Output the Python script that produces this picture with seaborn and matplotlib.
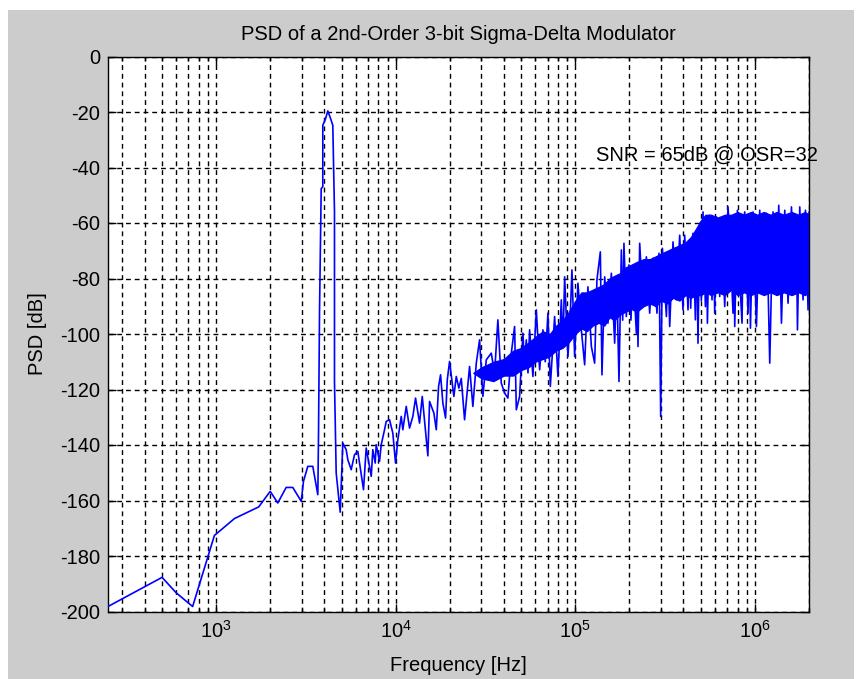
import numpy as np
import pandas as pd
import matplotlib
matplotlib.use("Agg")
import matplotlib.pyplot as plt
import seaborn as sns
from matplotlib.patches import Rectangle
from matplotlib.ticker import LogLocator, NullFormatter

# Measured PSD trace: frequency [Hz] and level [dB]
psd_freq = [
    250, 500, 600, 740, 978, 1265, 1727, 2000, 2204, 2454, 2672, 2978, 3064,
    3239, 3453, 3683, 3716, 3765, 3846, 3926, 3926, 4064, 4185, 4334, 4463,
    4560, 4560, 4661, 4907, 5074, 5299, 5410, 5650, 5894, 6150, 6615, 6849,
    7082, 7305, 7455, 7686, 7786, 8123, 8303, 8662, 8853, 9236, 9634, 9975,
    10273, 10730, 10954, 11441, 11937, 12454, 12892, 13571, 14048, 15098,
    15432, 16308, 16817, 17321, 17768, 18300, 18945, 19363, 19940, 21073,
    21730, 22468, 23170, 24170, 25770, 26880, 28090, 29300, 30570, 31930,
    34040, 35510, 37050, 38700, 40380, 42120, 44010, 45900, 46920, 48950,
    51070, 52200, 53330, 54500, 55650, 58050, 60640, 63270, 65990, 68000,
    70380, 72570, 76680, 80000, 83560, 85300, 87190, 90960, 93500, 95750,
    99100, 103400, 108000, 112700, 117500, 122800, 128100, 131900, 137800,
    140700, 145700, 151900, 158700, 165600, 170000, 175000, 180400, 183500,
    186500, 192300, 198900, 204000, 209400, 218700, 221000, 223300, 228200,
    238000, 248600, 259400, 270500, 284900, 292300, 298700, 305300, 321400,
    328000, 335300, 349900, 365300, 381200, 397600, 406400, 424000, 431000,
    438800, 452000, 466100, 474000, 481900, 492600, 503000, 513900, 529900,
    536000, 543700, 560000, 576800, 586000, 597000, 610200, 636600, 650700,
    678800, 708200, 723800, 755100, 763000, 771800, 799100, 823000, 847600,
    862000, 877500, 915400, 930000, 944000, 975900, 1019500, 1063400,
    1109400, 1159000, 1209200, 1261400, 1317800, 1357200, 1404900, 1465700,
    1529000, 1597000, 1666100, 1700000, 1724900, 1776500, 1853500, 1911100,
    1976000, 2000000,
]
psd_db = [
    -198.2, -187.7, -193.3, -198.2, -172.6, -166.5, -162.3, -156.7, -160.9,
    -155.3, -155.3, -160.3, -153.1, -147.7, -147.7, -157.9, -136.3, -91.3,
    -47.6, -47.0, -24.8, -22.5, -19.6, -22.3, -24.8, -56.0, -117.1, -150.1,
    -164.2, -139.3, -141.7, -145.3, -148.9, -143.5, -142.3, -156.1, -141.1,
    -146.5, -151.3, -141.7, -146.5, -139.9, -145.9, -139.9, -134.5, -131.5,
    -130.9, -135.7, -146.5, -138.1, -129.7, -134.5, -126.1, -133.9, -129.7,
    -123.1, -132.1, -122.5, -143.9, -124.3, -128.5, -134.5, -118.9, -114.7,
    -124.9, -130.3, -116.5, -109.9, -122.5, -115.3, -119.5, -116.0, -130.9,
    -111.7, -126.1, -110.5, -102.1, -122.5, -109.3, -106.9, -114.1, -94.9,
    -117.7, -121.3, -123.1, -106.9, -97.3, -127.3, -122.5, -99.7, -112.0,
    -102.1, -114.0, -98.5, -115.3, -91.3, -112.9, -98.5, -110.0, -92.5,
    -118.9, -93.7, -115.3, -87.7, -104.0, -79.4, -108.1, -95.0, -76.9,
    -108.1, -81.7, -98.5, -111.1, -83.0, -104.5, -110.5, -80.5, -70.4,
    -114.7, -79.4, -96.1, -78.1, -103.3, -80.0, -117.1, -69.7, -95.0, -67.3,
    -93.7, -75.1, -95.0, -75.8, -99.7, -78.0, -104.5, -67.3, -88.9, -72.2,
    -92.5, -72.7, -92.5, -70.9, -129.7, -69.1, -93.7, -75.0, -97.3, -66.8,
    -87.7, -64.4, -91.3, -64.4, -91.3, -68.6, -90.7, -63.7, -94.9, -66.0,
    -103.3, -60.1, -88.0, -56.0, -90.1, -60.0, -96.1, -57.2, -87.7, -62.0,
    -92.5, -57.8, -86.5, -59.0, -90.1, -54.2, -64.4, -92.5, -60.0, -97.3,
    -55.4, -80.5, -96.1, -60.0, -56.0, -92.5, -62.0, -97.9, -56.0, -97.3,
    -55.4, -83.0, -56.5, -110.5, -56.0, -81.7, -53.6, -96.1, -55.4, -88.9,
    -54.2, -84.1, -60.0, -98.5, -54.2, -87.7, -55.4, -91.3, -56.0,
]

# Dense noise floor: upper and lower edge of the solid band, kHz / dB
band_khz = [27, 30, 35, 40, 45, 50, 55, 60, 66, 72, 78, 85, 92, 100, 108,
            116, 125, 135, 145, 155, 165, 178, 190, 205, 220, 240, 260, 280,
            300, 325, 350, 380, 410, 440, 470, 500, 530, 570, 620, 680, 740,
            800, 870, 950, 1030, 1120, 1220, 1320, 1450, 1600, 1750, 1900,
            2000]
band_top = [-114, -112, -110, -109, -106, -105, -103, -101, -99, -100, -97,
            -95, -92, -88, -85, -85, -84, -83, -82, -80, -79, -78, -76, -75,
            -74, -73, -73, -72, -71, -70, -69, -68, -67, -65, -62, -59, -57,
            -57, -58, -57, -57, -56, -57, -56, -57, -56, -57, -56, -57, -56,
            -57, -56, -57]
band_bot = [-114, -116, -117, -115, -115, -113, -112, -110, -109, -108, -106,
            -105, -103, -100, -98, -99, -97, -96, -97, -94, -95, -93, -92,
            -91, -92, -90, -89, -90, -88, -89, -87, -88, -86, -87, -86, -86,
            -85, -86, -85, -86, -84, -86, -85, -86, -85, -86, -85, -86, -85,
            -86, -85, -86, -85]

y_ticks = list(range(-200, 1, 20))
snr_text = "SNR = 65dB @ OSR=32"
snr_pos = (1.3e5, -35.6)

sns.set_theme(style="white")
plt.rcParams["font.family"] = ["Liberation Sans", "DejaVu Sans"]
plt.rcParams["mathtext.fontset"] = "custom"
plt.rcParams["mathtext.rm"] = "Liberation Sans"
plt.rcParams["axes.unicode_minus"] = False
plt.rcParams["text.color"] = "black"
plt.rcParams["axes.labelcolor"] = "black"

FS = 14.5
BLUE = "#0000ff"

fig = plt.figure(figsize=(8.62, 6.79), dpi=100, facecolor="white")
fig.patches.append(Rectangle((8 / 862, 0), (854 - 8) / 862, (679 - 10) / 679,
                             transform=fig.transFigure, facecolor="#cccccc",
                             edgecolor="none", zorder=-10))
ax = fig.add_axes([108 / 862, 1 - 611.5 / 679, (809 - 108) / 862,
                   (611.5 - 56.5) / 679])
ax.set_facecolor("white")

ax.fill_between(np.array(band_khz) * 1e3, band_bot, band_top, color=BLUE,
                lw=0.8, edgecolor=BLUE, zorder=2)
df = pd.DataFrame({"Frequency": psd_freq, "PSD": psd_db})
sns.lineplot(data=df, x="Frequency", y="PSD", ax=ax, color=BLUE, lw=1.2,
             estimator=None, sort=False, zorder=3)

ax.set_xscale("log")
ax.set_xlim(250, 2e6)
ax.set_ylim(-200, 0)
ax.set_yticks(y_ticks)
ax.xaxis.set_major_locator(LogLocator(base=10))
ax.xaxis.set_minor_locator(LogLocator(base=10, subs=np.arange(2, 10)))
ax.xaxis.set_minor_formatter(NullFormatter())

dash = (0, (3.5, 2.8))
ax.grid(True, which="major", color="black", ls=dash, lw=1.0)
ax.grid(True, which="minor", axis="x", color="black", ls=dash, lw=1.0)

for s in ax.spines.values():
    s.set_visible(True)
    s.set_color("black")
    s.set_linewidth(1.0)

ax.tick_params(which="both", direction="in", top=True, right=True,
               bottom=True, left=True, colors="black", labelsize=FS)
ax.tick_params(which="major", length=6, width=1.0)
ax.tick_params(which="minor", length=3, width=1.0)
ax.tick_params(axis="y", pad=5.8)
ax.tick_params(axis="x", pad=6)

ax.set_title("PSD of a 2nd-Order 3-bit Sigma-Delta Modulator", fontsize=FS,
             pad=12, color="black")
ax.set_xlabel("Frequency [Hz]", fontsize=FS, labelpad=10)
ax.set_ylabel("PSD [dB]", fontsize=FS, labelpad=9)
ax.text(snr_pos[0], snr_pos[1], snr_text, fontsize=FS, ha="left",
        va="center", color="black", clip_on=False, zorder=4)

fig.savefig("out.png", dpi=100, facecolor=fig.get_facecolor())
